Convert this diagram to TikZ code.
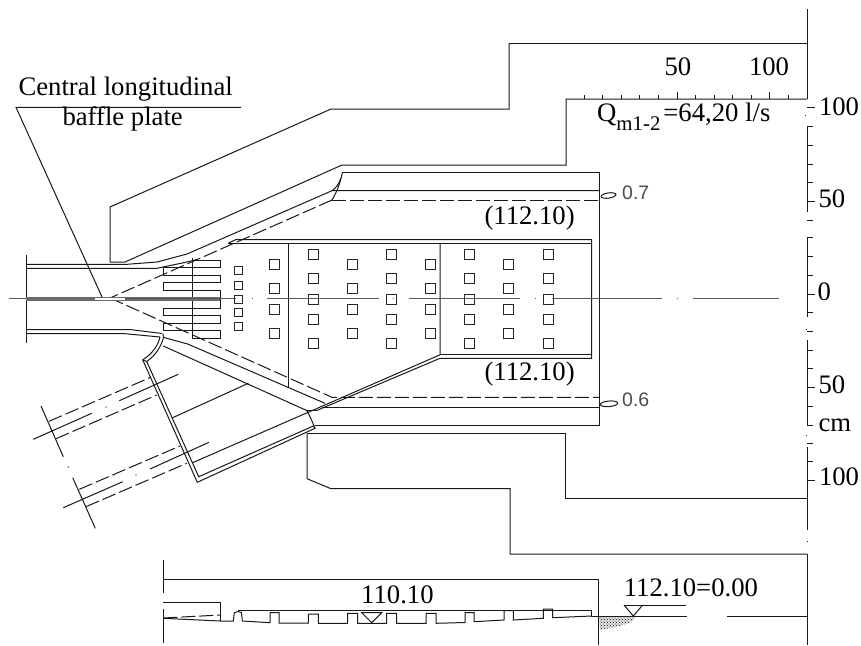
\documentclass[tikz,border=0pt]{standalone}
\usepackage{fontspec}
\setmainfont{Liberation Serif}
\newfontfamily\levelfont{Liberation Sans}
\usetikzlibrary{patterns}

\begin{document}
\begin{tikzpicture}[x=1pt, y=-1pt, line width=1pt, color=black!90,
                    every node/.style={text=black, inner sep=0pt, anchor=base west},
                    label text/.style={font=\fontsize{26.7}{28}\selectfont},
                    level text/.style={font=\levelfont\fontsize{19.5}{20}\selectfont, text=black!70},
                    hidden edge/.style={dash pattern=on 14pt off 4pt},
                    axis/.style={line width=1.2pt, black!65},
                    opening/.style={line width=0.95pt, black!85}]

  \useasboundingbox (0,0) rectangle (861,645);

  % Outer walls, top and bottom
  \draw (509,43) -- (807,43);
  \draw (110,262) -- (110,207) -- (331,109) -- (509,109) -- (509,43);
  \draw (110,262) -- (125,262) -- (342,165) -- (566,165) -- (566,99) -- (807,99);
  \draw (307,433) -- (565.5,433) -- (565.5,498) -- (807,498);
  \draw (307,433) -- (307,478.7) -- (331,488.7) -- (510,488.7) -- (510,554) -- (807,554);

  % Inlet channel
  \draw (26,255) -- (26,342.7);
  \draw (26,264.3) -- (127,264.3) -- (157,262) -- (187,254) -- (332,190.7) -- (599,190.7);
  \draw (26,268.3) -- (157,268.3) -- (187,262) -- (197,259.5);
  \draw (26,329.5) -- (130,329.5) -- (162,333.5);
  \draw (26,333.5) -- (123,333.5) -- (160,337);

  % Upper edge of the basin
  \draw (342.5,172) -- (599,172) -- (599,425) -- (315,425);
  \draw (342.5,172) .. controls (340.5,182) and (337,192) .. (332,200);
  \draw (341,178) .. controls (339,184) and (336,188) .. (332,190.7);

  % Hidden edges
  \draw[hidden edge] (332,200) -- (599,200);
  \draw[hidden edge] (332,200) -- (110,298);
  \draw[hidden edge] (110,298) -- (332,397.3) -- (599,397.3);

  % Inner basin
  \draw (228,243.3) -- (236,239.5) -- (591.7,239.5) -- (591.7,358.3) -- (440,358.3) -- (316.7,410.5);
  \draw (228,243.3) -- (591.7,243.3);
  \draw (440,354.8) -- (591.7,354.8);
  \draw (288.3,243.3) -- (288.3,388.3);
  \draw (440,243.3) -- (440,354.8) -- (193,462.5);
  \draw (316.7,410.5) -- (306.7,410.5);
  \draw (322,407) -- (599,407);

  % Lateral outlet
  \draw (163.3,337.3) -- (187.7,344) -- (325,403.3);
  \draw (163.3,346) -- (306.7,410.5) .. controls (310,416) and (312,421) .. (315,428.3);
  \draw (163,333.7) .. controls (164,335) and (164,336) .. (163.5,337.5)
        .. controls (161,347) and (155,356) .. (146.7,361.5);
  \draw (160,337) .. controls (158,346) and (152,354) .. (142.7,359.8);
  \draw (142.7,359.8) -- (146.7,361.5);
  \draw (142.7,359.8) -- (197.3,482.3) -- (315,428.3) -- (313.3,426) -- (198.7,476.7) -- (146.7,361.5);
  \draw (172.7,417.7) -- (248.3,383.3);

  % Outlet axes and pipes
  \draw (33.3,439.3) -- (91.7,413.3) (105.5,407.2) -- (106.5,406.8) (119.3,400.7) -- (178.3,374.3);
  \draw (63.3,507.7) -- (122.7,481.7) (135.5,475.2) -- (136.5,474.8) (150,469) -- (209,442.3);
  \draw (41,406) -- (63.3,456.7) (68,466.5) -- (68.5,467.5) (72.7,477.7) -- (95.3,528.3);
  \draw[hidden edge] (49,421.3) -- (150.7,377.3);
  \draw[hidden edge] (56,438.7) -- (156.7,395);
  \draw[hidden edge] (79.3,489.3) -- (180,446);
  \draw[hidden edge] (86,506.7) -- (186.7,463.3);

  % Comb of the inlet end
  \draw (192,260) -- (220,260) -- (220,267.3) -- (163.3,267.3) -- (163.3,275) -- (220,275)
        -- (220,282.3) -- (163.3,282.3) -- (163.3,290) -- (220,290) -- (220,308.3)
        -- (163.3,308.3) -- (163.3,315.7) -- (220,315.7) -- (220,323.3) -- (163.3,323.3)
        -- (163.3,330.7) -- (220,330.7) -- (220,338.3) -- (192,338.3);
  \draw (192,258) -- (192,338.3);

  % Central baffle and axis
  \draw[line width=4.5pt, black!58] (26,298.8) -- (220,298.8);
  \draw[line width=1.4pt, white] (95,298.8) -- (125,298.8);
  \draw[axis] (9,298.8) -- (26,298.8) (125,298.8) -- (236,298.8) (251.5,298.8) -- (252.5,298.8) (267,298.8) -- (379,298.8)
              (392.5,298.8) -- (393.5,298.8) (409,298.8) -- (520,298.8) (534.5,298.8) -- (535.5,298.8)
              (552,298.8) -- (662,298.8) (676.5,298.8) -- (677.5,298.8) (692.5,298.8) -- (779,298.8);

  % Openings in the floor
  \foreach \y in {270.7, 285.7, 299, 312, 326.7} {
    \draw[opening] (234.3,\y-4) rectangle (242.3,\y+4);
  }
  \foreach \x in {274.3, 352.3, 430.7, 508.7} {
    \foreach \y in {264.3, 288.3, 309, 333.3} {
      \draw[opening] (\x-5,\y-5) rectangle (\x+5,\y+5);
    }
  }
  \foreach \x in {313.3, 391.7, 469.3, 548} {
    \foreach \y in {254, 278.3, 299, 319.3, 343.7} {
      \draw[opening] (\x-5,\y-5) rectangle (\x+5,\y+5);
    }
  }

  % Scale on the right
  \draw (807,9) -- (807,99);
  \draw (807,126.7) -- (807,211.7) (807,237) -- (807,316.7) (807,340) -- (807,425)
        (807,446.7) -- (807,530) (807,554) -- (807,645);
  \draw (805,115) -- (805.8,115) (805.5,329) -- (806.3,329) (805.5,435) -- (806.3,435)
        (807,541.7) -- (807.8,541.7);
  \foreach \y in {126.7, 145.3, 164, 182.7, 237.3, 256.7, 275.3, 312.7, 350, 368.7, 406, 425, 443, 461.7, 220, 331} {
    \draw (807,\y) -- (813,\y);
  }
  \foreach \y in {107, 201, 294, 387.3, 480} {
    \draw (807,\y) -- (815,\y);
  }

  % Scale on the top
  \foreach \x in {584.3, 602.7, 621.3, 639.7, 658.3, 695.3, 714, 732.7, 751, 788.3} {
    \draw (\x,99) -- (\x,94.5);
  }
  \foreach \x in {677, 769.7} {
    \draw (\x,99) -- (\x,92);
  }

  % Leader of the baffle
  \draw (241,107.3) -- (16,107.3) -- (102,297);

  % Flow marks
  \draw[rotate around={8:(608.5,195.5)}] (608.5,195.5) ellipse [x radius=7.5, y radius=2.6];
  \draw[rotate around={5:(609,403.8)}] (609,403.8) ellipse [x radius=8.7, y radius=2.8];

  % Longitudinal section
  \draw (163.3,560) -- (163.3,593) (163.3,609) -- (163.3,642.7);
  \draw (163.3,602.3) -- (220,602.3) -- (220,621);
  \draw (163.3,579) -- (598.3,579) -- (598.3,645);
  \draw[hidden edge] (163.3,618) -- (220,615);
  \draw (163.3,618.3) -- (220,621) -- (233.3,621) -- (234.3,612.7) -- (238.3,611.5) -- (241.5,612.7)
        -- (242.3,621) -- (270,622.7) -- (270,612.7) -- (279,612.7) -- (279,623)
        -- (308.3,623) -- (308.3,614) -- (318.3,614) -- (318.3,623.3)
        -- (347.7,623.3) -- (347.7,613.3) -- (357.7,613.3) -- (357.7,623.3)
        -- (386.7,623.3) -- (386.7,613.3) -- (396.7,613.3) -- (396.7,623.3)
        -- (426,623.3) -- (426,613.3) -- (436,613.3) -- (436,623.3)
        -- (465,622.5) -- (465,612.7) -- (474,612.7) -- (474,621.7)
        -- (504,620) -- (504,610.7) -- (513.3,610.7) -- (513.3,620)
        -- (543.3,618.3) -- (543.3,609) -- (552.7,609) -- (552.7,617.7) -- (591.7,616);
  \draw (238.3,610.7) -- (591.7,610.7) -- (591.7,616) -- (686.7,616);
  \draw (726.7,616) -- (807,616);
  \draw (361.7,612.7) -- (381.7,612.7) -- (371.7,622.7) -- cycle;
  \draw (624,605) -- (686,605);
  \draw (624,605) -- (633.3,616) -- (642.7,605);
  \fill[black!10] (599,617) -- (635,617) -- (632,622) -- (620,626) -- (600,630) -- cycle;
  \fill[pattern=crosshatch dots, pattern color=black] (599,617) -- (635,617) -- (632,622)
        -- (620,626) -- (600,630) -- cycle;

  % Labels
  \node[label text] (baffle top) at (18,95) {Central longitudinal};
  \node[label text] (baffle low) at (62,125) {baffle plate};
  \node[label text] (scale fifty) at (664,75) {50};
  \node[label text] (scale hundred) at (748.5,75) {100};
  \node[label text] (discharge) at (596.7,121.7) {Q\raisebox{-9pt}{\fontsize{20.8}{21}\selectfont m1-2}\hspace{3pt}=64,20 l/s};
  \node[label text] (upper level) at (484,224) {(112.10)};
  \node[label text] (lower level) at (484,380) {(112.10)};
  \node[level text] (depth upper) at (621.7,199) {0.7};
  \node[level text] (depth lower) at (621.7,406.7) {0.6};
  \node[label text] (right hundred) at (818.5,115) {100};
  \node[label text] (right fifty) at (818,207) {50};
  \node[label text] (right zero) at (817,300) {0};
  \node[label text] (low fifty) at (818,393) {50};
  \node[label text] (unit) at (818,431.7) {cm};
  \node[label text] (low hundred) at (818.5,485) {100};
  \node[label text] (floor level) at (360.7,603.3) {110.10};
  \node[label text] (water level) at (623.3,596.7) {112.10=0.00};

\end{tikzpicture}
\end{document}
